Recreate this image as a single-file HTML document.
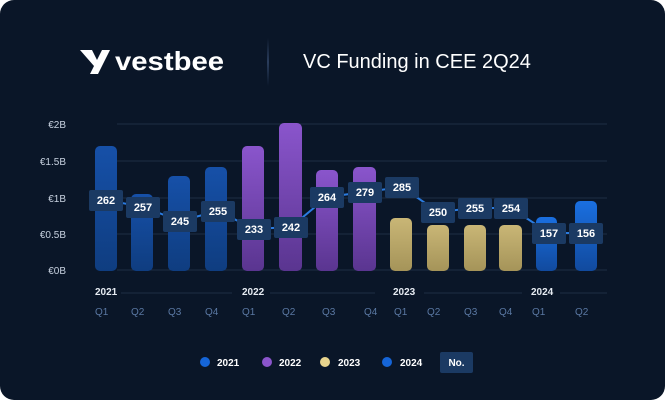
<!DOCTYPE html>
<html><head><meta charset="utf-8"><style>
html,body{margin:0;padding:0;background:#fff;}
body{width:665px;height:400px;overflow:hidden;}
svg{display:block;font-family:"Liberation Sans",sans-serif;}
</style></head><body>
<svg width="665" height="400" viewBox="0 0 665 400">
<defs>
<linearGradient id="b21" x1="0" y1="0" x2="0" y2="1"><stop offset="0" stop-color="#1650a8"/><stop offset="1" stop-color="#0f3d80"/></linearGradient>
<linearGradient id="b22" x1="0" y1="0" x2="0" y2="1"><stop offset="0" stop-color="#8a55cc"/><stop offset="1" stop-color="#5a3590"/></linearGradient>
<linearGradient id="b23" x1="0" y1="0" x2="0" y2="1"><stop offset="0" stop-color="#c9b676"/><stop offset="1" stop-color="#a59459"/></linearGradient>
<linearGradient id="b24" x1="0" y1="0" x2="0" y2="1"><stop offset="0" stop-color="#1a6fe0"/><stop offset="1" stop-color="#114a9e"/></linearGradient>
<linearGradient id="div" x1="0" y1="0" x2="0" y2="1"><stop offset="0" stop-color="#0a1628"/><stop offset="0.5" stop-color="#2a3d5c"/><stop offset="1" stop-color="#0a1628"/></linearGradient>
</defs>
<rect x="0" y="0" width="665" height="400" rx="14" fill="#0a1628"/>
<path d="M80 50 L92 50 L97 60 L102 50 L110 50 L98 74 L90 74 L94 66 Z" fill="#fff"/>
<text x="115" y="70" font-size="26" font-weight="bold" fill="#fff" textLength="109" lengthAdjust="spacingAndGlyphs">vestbee</text>
<rect x="267" y="38" width="2" height="48" fill="url(#div)"/>
<text x="303" y="68" font-size="20" fill="#fff">VC Funding in CEE 2Q24</text>
<g font-size="10" fill="#c8d2e0" text-anchor="end">
<text x="66" y="128">€2B</text><text x="66" y="165">€1.5B</text><text x="66" y="202">€1B</text><text x="66" y="238">€0.5B</text><text x="66" y="274">€0B</text>
</g>
<g stroke="#1e2d45" stroke-width="1">
<line x1="117" y1="124" x2="607" y2="124"/><line x1="117" y1="161" x2="607" y2="161"/><line x1="117" y1="198" x2="607" y2="198"/><line x1="117" y1="234" x2="607" y2="234"/><line x1="117" y1="270" x2="607" y2="270"/>
</g>
<g>
<rect x="95" y="146" width="22" height="125" rx="5" fill="url(#b21)"/>
<rect x="131" y="194" width="22" height="77" rx="5" fill="url(#b21)"/>
<rect x="168" y="176" width="22" height="95" rx="5" fill="url(#b21)"/>
<rect x="205" y="167" width="22" height="104" rx="5" fill="url(#b21)"/>
<rect x="242" y="146" width="22" height="125" rx="5" fill="url(#b22)"/>
<rect x="279" y="123" width="23" height="148" rx="5" fill="url(#b22)"/>
<rect x="316" y="170" width="22" height="101" rx="5" fill="url(#b22)"/>
<rect x="353" y="167" width="23" height="104" rx="5" fill="url(#b22)"/>
<rect x="390" y="218" width="22" height="53" rx="5" fill="url(#b23)"/>
<rect x="427" y="225" width="22" height="46" rx="5" fill="url(#b23)"/>
<rect x="464" y="225" width="22" height="46" rx="5" fill="url(#b23)"/>
<rect x="499" y="225" width="23" height="46" rx="5" fill="url(#b23)"/>
<rect x="536" y="217" width="21" height="54" rx="5" fill="url(#b24)"/>
<rect x="575" y="201" width="22" height="70" rx="5" fill="url(#b24)"/>
</g>
<polyline points="106,200 143,207 180,221 218,211 254,229 291,227 327,197 365,192 402,187 438,212 475,208 511,208 549,233 586,233" fill="none" stroke="#2a7be0" stroke-width="2"/>
<g font-size="11" font-weight="bold" fill="#fff" text-anchor="middle">
<g fill="#1b3a63">
<rect x="89" y="190" width="34" height="21" rx="2"/><rect x="126" y="197" width="34" height="21" rx="2"/><rect x="163" y="211" width="34" height="21" rx="2"/><rect x="201" y="201" width="34" height="21" rx="2"/><rect x="237" y="219" width="34" height="21" rx="2"/><rect x="274" y="217" width="34" height="21" rx="2"/><rect x="310" y="187" width="34" height="21" rx="2"/><rect x="348" y="182" width="34" height="21" rx="2"/><rect x="385" y="177" width="34" height="21" rx="2"/><rect x="421" y="202" width="34" height="21" rx="2"/><rect x="458" y="198" width="34" height="21" rx="2"/><rect x="494" y="198" width="34" height="21" rx="2"/><rect x="532" y="223" width="34" height="21" rx="2"/><rect x="569" y="223" width="34" height="21" rx="2"/>
</g>
<text x="106" y="204">262</text><text x="143" y="211">257</text><text x="180" y="225">245</text><text x="218" y="215">255</text><text x="254" y="233">233</text><text x="291" y="231">242</text><text x="327" y="201">264</text><text x="365" y="196">279</text><text x="402" y="191">285</text><text x="438" y="216">250</text><text x="475" y="212">255</text><text x="511" y="212">254</text><text x="549" y="237">157</text><text x="586" y="237">156</text>
</g>
<g font-size="10" font-weight="bold" fill="#e6ebf2">
<text x="95" y="295">2021</text><text x="242" y="295">2022</text><text x="393" y="295">2023</text><text x="531" y="295">2024</text>
</g>
<g stroke="#1e2d45"><line x1="121" y1="293" x2="232" y2="293"/><line x1="270" y1="293" x2="375" y2="293"/><line x1="424" y1="293" x2="522" y2="293"/><line x1="560" y1="293" x2="607" y2="293"/></g>
<g font-size="10" fill="#5a78a3">
<text x="95" y="315">Q1</text><text x="131" y="315">Q2</text><text x="168" y="315">Q3</text><text x="205" y="315">Q4</text><text x="242" y="315">Q1</text><text x="282" y="315">Q2</text><text x="322" y="315">Q3</text><text x="364" y="315">Q4</text><text x="394" y="315">Q1</text><text x="427" y="315">Q2</text><text x="464" y="315">Q3</text><text x="499" y="315">Q4</text><text x="532" y="315">Q1</text><text x="575" y="315">Q2</text>
</g>
<circle cx="205" cy="362" r="5" fill="#1565d8"/><circle cx="267" cy="362" r="5" fill="#8b55cc"/><circle cx="325" cy="362" r="5" fill="#e8d48e"/><circle cx="387" cy="362" r="5" fill="#1565d8"/>
<g font-size="10" font-weight="bold" fill="#fff">
<text x="217" y="366">2021</text><text x="279" y="366">2022</text><text x="338" y="366">2023</text><text x="400" y="366">2024</text>
</g>
<rect x="440" y="352" width="33" height="21" rx="2" fill="#1b3a63"/>
<text x="456.5" y="366" font-size="10" font-weight="bold" fill="#fff" text-anchor="middle">No.</text>
</svg>
</body></html>
